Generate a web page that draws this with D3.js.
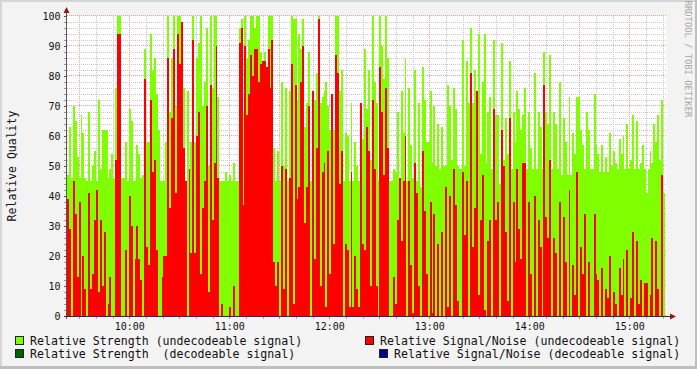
<!DOCTYPE html>
<html>
<head>
<meta charset="utf-8">
<script src="https://cdn.jsdelivr.net/npm/d3@7"></script>
<style>
  body { margin: 0; background: #f3f3f3; }
  svg { display: block; }
  text { font-family: "DejaVu Sans Mono", monospace; }
</style>
</head>
<body>
<div id="chart"></div>
<script>
//relative strength, undecodeable signal (one value per sample)
var strength = [
  47,63,46,70,65,53,46,67,61,46, 45,68,45,50,55,45,72,49,62,62, 62,46,49,54,46,76,100,100,46,46,
  58,45,69,65,45,45,57,54,46,47, 89,58,58,94,82,86,74,62,45,45, 45,58,100,
  68,86,100,70,100,100,93,76,45,75, 45,58,100,58,86,91,100,70,78,96, 50,100,76,100,100,73,45,45,45,48,
  45,47,45,51,45,45,96,99,68,100, 86,92,100,100,96,100,100,88,66,88, 62,100,100,100,56,45,55,
  45,78,50,76,45,75,100,99,99,72, 94,89,99,63,71,88,45,59,72,81, 100,71,73,75,78,70,62,70,62,100,
  100,75,82,45,61,60,45,71,45,58, 50,45,59,59,89,69,82,52,100,78, 71,45,100,
  90,79,100,86,45,45,49,48,68,45, 75,61,86,45,76,57,46,82,45,71, 43,83,72,58,58,75,51,70,50,64,
  49,63,50,50,77,70,52,76,69,50, 49,49,92,50,85,71,96,71,82,54, 94,54,78,
  94,51,68,73,49,92,67,67,44,91, 52,66,54,85,49,68,58,75,69,62, 67,76,49,68,56,49,81,49,68,63,
  49,88,68,64,87,49,68,64,49,78, 47,66,58,47,73,47,61,54,73,73, 62,57,49,68,
  62,49,49,74,57,54,48,57,48,53, 48,61,50,55,51,49,59,54,60,49, 64,49,52,67,49,65,49,51,57,49,
  41,49,55,51,64,58,67,52,72,41
];

//relative signal/noise, undecodeable signal
var snr = [
  39,29,0,45,34,13,38,0,20,9, 0,41,9,14,32,42,8,32,10,28, 0,4,13,0,0,52,94,94,0,0,
  22,0,40,30,0,19,30,19,12,0, 79,23,17,72,48,52,22,0,0,13, 20,20,86,
  36,66,89,41,94,84,98,56,45,0, 49,21,92,21,60,68,14,36,45,70, 8,77,32,51,90,46,0,4,0,0,
  0,3,0,10,0,0,91,96,37,90, 67,74,87,80,89,89,78,84,85,85, 83,89,76,92,18,10,18,
  0,50,9,49,0,46,84,4,77,39, 43,78,90,31,43,70,0,75,19,56, 99,10,48,51,3,55,14,74,24,87,
  81,44,55,0,24,22,3,48,3,20, 9,3,71,24,22,63,55,10,72,49, 10,0,83,
  68,47,76,56,0,0,13,4,32,46, 25,45,60,0,45,17,1,51,41,10, 0,55,35,14,0,38,1,34,0,24,
  0,28,0,43,3,40,0,49,37,5, 0,0,48,27,45,0,81,23,36,75, 7,32,47,
  2,0,25,32,0,69,32,38,0,62, 50,28,5,66,0,38,18,49,29,19, 51,51,0,38,14,0,40,0,32,23,
  0,77,33,26,52,0,26,21,0,38, 0,33,18,0,42,0,17,7,48,0, 23,14,34,0,
  18,0,0,34,14,12,0,16,0,9, 6,20,0,8,4,0,16,7,19,0, 22,0,6,28,0,25,4,12,0,11,
  11,0,7,26,0,25,9,0,47,0
];

//y tick labels and time labels
var yTicks = [0,10,20,30,40,50,60,70,80,90,100];
var hourLabels = ["10:00","11:00","12:00","13:00","14:00","15:00"];

//legend entries and colours
var legendLabels = [
  "Relative Strength (undecodeable signal)",
  "Relative Signal/Noise (undecodeable signal)",
  "Relative Strength  (decodeable signal)",
  "Relative Signal/Noise (decodeable signal)"
];
var legendColors = ["#80ff00", "#ff0000", "#006400", "#000090"];

//svg + plot area
var svgWidth = 697, svgHeight = 369;
var plot = { left: 67, right: 667, top: 16, bottom: 316 };

var svg = d3.select("#chart").append("svg")
    .attr("width", svgWidth)
    .attr("height", svgHeight);

//frame shading like rrdtool
svg.append("rect").attr("width", svgWidth).attr("height", svgHeight).attr("fill", "#f3f3f3");
svg.append("rect").attr("x", 0).attr("y", 0).attr("width", svgWidth).attr("height", 2).attr("fill", "#d6d6d6");
svg.append("rect").attr("x", 0).attr("y", 0).attr("width", 2).attr("height", svgHeight).attr("fill", "#d6d6d6");
svg.append("rect").attr("x", svgWidth - 2).attr("y", 0).attr("width", 2).attr("height", svgHeight).attr("fill", "#bebebe");
svg.append("rect").attr("x", 0).attr("y", svgHeight - 3).attr("width", svgWidth).attr("height", 3).attr("fill", "#bebebe");

//canvas
svg.append("rect")
    .attr("x", plot.left).attr("y", plot.top)
    .attr("width", plot.right - plot.left).attr("height", plot.bottom - plot.top)
    .attr("fill", "#ffffff");

//scales
var tStart = new Date(2024, 0, 1, 9, 22, 36);
var tEnd = new Date(2024, 0, 1, 15, 22, 36);
var xScale = d3.scaleTime().domain([tStart, tEnd]).range([plot.left, plot.right]);
var yScale = d3.scaleLinear().domain([0, 100]).range([plot.bottom, plot.top]);

//sample spacing in seconds
var sampleStep = 69.44;
function sampleTime(i) { return new Date(tStart.getTime() + i * sampleStep * 1000); }

//grid
var gridG = svg.append("g").attr("shape-rendering", "crispEdges");
var minorY = d3.range(0, 101, 2);
gridG.selectAll("line.hminor").data(minorY.filter(v => v % 10 !== 0)).enter().append("line")
    .attr("x1", plot.left).attr("x2", plot.right)
    .attr("y1", d => Math.round(yScale(d)) + 0.5).attr("y2", d => Math.round(yScale(d)) + 0.5)
    .attr("stroke", "#c8c8c8").attr("stroke-dasharray", "1,1");
var minorX = d3.timeMinute.every(10).range(tStart, tEnd);
gridG.selectAll("line.vminor").data(minorX.filter(d => d.getMinutes() % 30 !== 0)).enter().append("line")
    .attr("x1", d => Math.round(xScale(d)) + 0.5).attr("x2", d => Math.round(xScale(d)) + 0.5)
    .attr("y1", plot.top).attr("y2", plot.bottom)
    .attr("stroke", "#c8c8c8").attr("stroke-dasharray", "1,1");
gridG.selectAll("line.hmajor").data(yTicks).enter().append("line")
    .attr("x1", plot.left).attr("x2", plot.right)
    .attr("y1", d => Math.round(yScale(d)) - 0.5).attr("y2", d => Math.round(yScale(d)) - 0.5)
    .attr("stroke", "#eda0a0").attr("stroke-dasharray", "1,1");
var majorX = minorX.filter(d => d.getMinutes() % 30 === 0);
gridG.selectAll("line.vmajor").data(majorX).enter().append("line")
    .attr("x1", d => Math.round(xScale(d)) + 0.5).attr("x2", d => Math.round(xScale(d)) + 0.5)
    .attr("y1", plot.top).attr("y2", plot.bottom)
    .attr("stroke", "#eda0a0").attr("stroke-dasharray", "1,1");

//areas, step shaped like rrdtool AREA
function stepArea(values) {
    var pts = values.map((v, i) => [sampleTime(i), v]);
    pts.push([sampleTime(values.length), values[values.length - 1]]);
    return d3.area()
        .curve(d3.curveStepAfter)
        .x(d => xScale(d[0]))
        .y0(yScale(0))
        .y1(d => yScale(d[1]))(pts);
}
svg.append("path").attr("d", stepArea(strength)).attr("fill", "#80ff00").attr("shape-rendering", "crispEdges");
svg.append("path").attr("d", stepArea(snr)).attr("fill", "#ff0000").attr("shape-rendering", "crispEdges");

//y axis labels + ticks
var leftAxis = d3.axisLeft(yScale).tickValues(yTicks).tickSize(3).tickPadding(3);
var yAxisG = svg.append("g")
    .attr("transform", `translate(${plot.left - 0.5}, 0)`)
    .attr("shape-rendering", "crispEdges")
    .call(leftAxis);
yAxisG.select(".domain").remove();
yAxisG.selectAll(".tick line").attr("stroke", "#7a4040");
yAxisG.selectAll("text").attr("font-size", "10px").attr("fill", "#111")
    .style("font-family", "'DejaVu Sans Mono', monospace");
svg.append("g").attr("shape-rendering", "crispEdges").selectAll("line")
    .data(minorY.filter(v => v % 10 !== 0)).enter().append("line")
    .attr("x1", plot.left - 3).attr("x2", plot.left)
    .attr("y1", d => Math.round(yScale(d)) + 0.5).attr("y2", d => Math.round(yScale(d)) + 0.5)
    .attr("stroke", "#999");

//x axis labels (hours) + ticks
var hourDates = hourLabels.map(h => new Date(2024, 0, 1, +h.split(":")[0], 0, 0));
var bottomAxis = d3.axisBottom(xScale).tickValues(hourDates)
    .tickFormat((d, i) => hourLabels[i]).tickSize(0).tickPadding(6);
var xAxisG = svg.append("g")
    .attr("transform", `translate(0, ${plot.bottom + 0.5})`)
    .call(bottomAxis);
xAxisG.select(".domain").remove();
xAxisG.selectAll("text").attr("font-size", "10px").attr("fill", "#111")
    .style("font-family", "'DejaVu Sans Mono', monospace");
svg.append("g").attr("shape-rendering", "crispEdges").selectAll("line")
    .data(minorX).enter().append("line")
    .attr("x1", d => Math.round(xScale(d)) + 0.5).attr("x2", d => Math.round(xScale(d)) + 0.5)
    .attr("y1", plot.bottom).attr("y2", plot.bottom + 3)
    .attr("stroke", d => d.getMinutes() % 30 === 0 ? "#d08080" : "#aaa");

//axis lines and arrows
svg.append("line").attr("x1", plot.left - 0.5).attr("x2", plot.left - 0.5)
    .attr("y1", 10).attr("y2", plot.bottom + 3)
    .attr("stroke", "#555").attr("shape-rendering", "crispEdges");
svg.append("line").attr("x1", plot.left - 3).attr("x2", plot.right + 5)
    .attr("y1", plot.bottom + 0.5).attr("y2", plot.bottom + 0.5)
    .attr("stroke", "#2a2a60").attr("shape-rendering", "crispEdges");
svg.append("path").attr("d", `M${plot.left - 3.5},13 L${plot.left - 0.5},7 L${plot.left + 2.5},13 Z`)
    .attr("fill", "#8b1c1c");
svg.append("path").attr("d", `M${plot.right + 3},${plot.bottom - 2.5} L${plot.right + 9},${plot.bottom + 0.5} L${plot.right + 3},${plot.bottom + 3.5} Z`)
    .attr("fill", "#8b1c1c");

//vertical title
svg.append("text")
    .attr("transform", `translate(16, ${(plot.top + plot.bottom) / 2}) rotate(-90)`)
    .attr("text-anchor", "middle")
    .attr("font-size", "11.5px").attr("fill", "#111")
    .text("Relative Quality");

//rrdtool watermark
svg.append("text")
    .attr("transform", "translate(685, 59) rotate(90)")
    .attr("text-anchor", "middle")
    .attr("font-size", "8.8px").attr("fill", "#a8a8a8")
    .text("RRDTOOL / TOBI OETIKER");

//legend
var legendPos = [[15, 341], [365, 341], [15, 354], [379, 354]];
var legendG = svg.append("g");
legendLabels.forEach(function(label, i) {
    var p = legendPos[i];
    legendG.append("rect")
        .attr("x", p[0] + 0.5).attr("y", p[1] - 4.5)
        .attr("width", 8).attr("height", 8)
        .attr("fill", legendColors[i]).attr("stroke", "#222")
        .attr("shape-rendering", "crispEdges");
    legendG.append("text")
        .attr("x", p[0] + 15).attr("y", p[1] + 4)
        .attr("font-size", "11.6px").attr("fill", "#111")
        .attr("xml:space", "preserve")
        .style("white-space", "pre")
        .text(label);
});
</script>
</body>
</html>
